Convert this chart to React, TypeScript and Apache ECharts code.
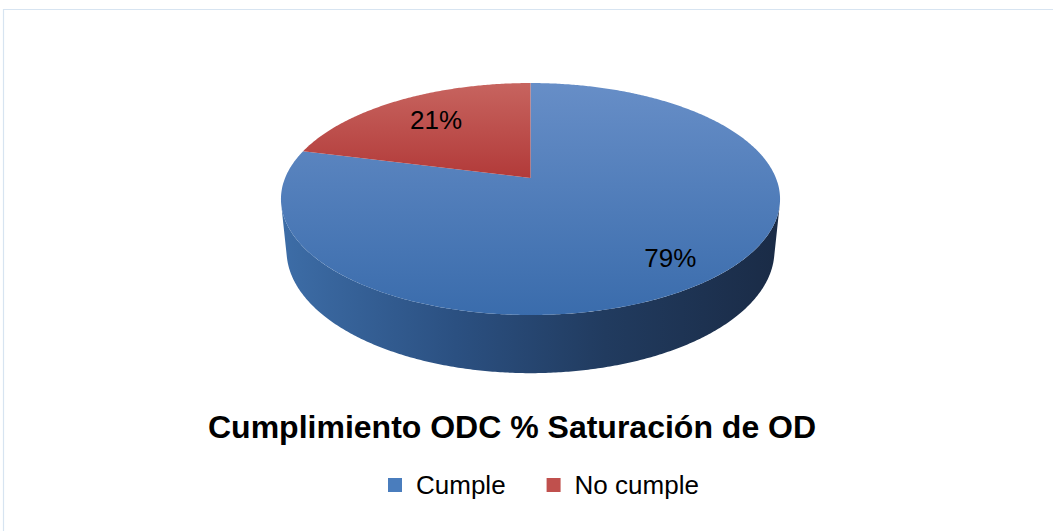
import React, { useEffect, useRef } from "react";
import * as echarts from "echarts";

const CATEGORIES = ["Cumple", "No cumple"];
const VALUES = [79, 21];
const TITLE = "Cumplimiento ODC % Saturación de OD";

const TOP_COLORS = [
  ["#678ec7", "#3a6cac"],
  ["#c7645f", "#b23a39"],
];
const SIDE_COLORS = [
  ["#3d6da7", "#2b5081", "#213b5f", "#1a2b46"],
  ["#a33a38", "#822d2b", "#662221", "#4d1a19"],
];
const LEGEND_COLORS = ["#4a7dbd", "#c0504d"];
const LABEL_R = [0.82, 0.69];
const FONT = '"Liberation Sans", Arial, sans-serif';

// 3D perspective camera for the pie
const CX = 530.5;
const CY = 178;
const ELEV = (27.2 * Math.PI) / 180;
const SA = Math.sin(ELEV);
const CA = Math.cos(ELEV);
const DIST = 4.91;
const FOCAL = 1205;
const DEPTH = 0.238;

function proj(X: number, Yw: number, Z: number): number[] {
  const w = DIST - Yw * SA + Z * CA;
  const up = Yw * CA + Z * SA;
  return [CX + (FOCAL * X) / w, CY - (FOCAL * up) / w];
}

function rim(a: number, b: number, Yw: number, r = 1): number[][] {
  const pts: number[][] = [];
  const n = Math.max(2, Math.ceil((b - a) / (Math.PI / 360)));
  for (let k = 0; k <= n; k++) {
    const p = a + ((b - a) * k) / n;
    pts.push(proj(r * Math.sin(p), Yw, r * Math.cos(p)));
  }
  return pts;
}

export default function App() {
  const ref = useRef<HTMLDivElement>(null);
  useEffect(() => {
    if (!ref.current) return;
    const chart = echarts.init(ref.current, undefined, { renderer: "svg" });
    const total = VALUES.reduce((a, b) => a + b, 0);
    // silhouette angles of the cylinder wall
    const Dh = DIST * CA;
    const phiT = Math.acos(-1 / Dh);
    const wallA = phiT;
    const wallB = 2 * Math.PI - phiT;

    const option: any = {
      animation: false,
      backgroundColor: "#ffffff",
      title: {
        text: TITLE,
        left: 208,
        top: 411,
        padding: 0,
        textStyle: {
          fontSize: 32,
          fontWeight: "bold",
          fontFamily: FONT,
          color: "#000",
          lineHeight: 32,
        },
      },
      legend: {
        data: CATEGORIES,
        left: 388,
        top: 472,
        padding: 0,
        icon: "rect",
        itemWidth: 14,
        itemHeight: 14,
        itemGap: 41,
        textStyle: {
          fontSize: 26,
          fontFamily: FONT,
          color: "#000",
          padding: [0, 0, 0, 9],
        },
      },
      graphic: [
        {
          type: "rect",
          silent: true,
          z: -10,
          shape: { x: 3.5, y: 9.5, width: 1200, height: 700 },
          style: { fill: "none", stroke: "#d7e4f1", lineWidth: 1.2 },
        },
      ],
      series: [
        {
          type: "pie",
          silent: true,
          center: [-200, -200],
          radius: [0, 1],
          label: { show: false },
          labelLine: { show: false },
          data: CATEGORIES.map((name, i) => ({
            name,
            value: VALUES[i],
            itemStyle: { color: LEGEND_COLORS[i] },
          })),
        },
        {
          type: "custom",
          coordinateSystem: "none",
          silent: true,
          data: CATEGORIES.map((name, i) => ({ name, value: VALUES[i] })),
          renderItem: (params: any, api: any) => {
            const i = params.dataIndex;
            const v = api.value(0);
            let start = 0;
            for (let k = 0; k < i; k++) start += VALUES[k];
            const p0 = (start / total) * 2 * Math.PI;
            const p1 = ((start + v) / total) * 2 * Math.PI;
            const children: any[] = [];
            const a = Math.max(p0, wallA);
            const b = Math.min(p1, wallB);
            if (a < b) {
              const topPts = rim(a, b, 0);
              const botPts = rim(a, b, -DEPTH).reverse();
              const sc = SIDE_COLORS[i];
              children.push({
                type: "polygon",
                shape: { points: topPts.concat(botPts) },
                style: {
                  fill: new echarts.graphic.LinearGradient(0, 0, 1, 0, [
                    { offset: 0, color: sc[0] },
                    { offset: 0.35, color: sc[1] },
                    { offset: 0.65, color: sc[2] },
                    { offset: 1, color: sc[3] },
                  ]),
                },
              });
            }
            const tc = TOP_COLORS[i];
            children.push({
              type: "polygon",
              shape: { points: [proj(0, 0, 0)].concat(rim(p0, p1, 0)) },
              style: {
                fill: new echarts.graphic.LinearGradient(0, 0, 0, 1, [
                  { offset: 0, color: tc[0] },
                  { offset: 1, color: tc[1] },
                ]),
              },
            });
            const mid = (p0 + p1) / 2;
            const r = LABEL_R[i];
            const lp = proj(r * Math.sin(mid), 0, r * Math.cos(mid));
            children.push({
              type: "text",
              x: lp[0],
              y: lp[1] - 2,
              style: {
                text: Math.round((v / total) * 100) + "%",
                fill: "#000",
                fontSize: 26,
                fontFamily: FONT,
                align: "center",
                verticalAlign: "middle",
              },
            });
            return { type: "group", children };
          },
        },
      ],
    };
    chart.setOption(option);
    return () => chart.dispose();
  }, []);
  return (
    <div
      ref={ref}
      style={{ position: "fixed", left: 0, top: 0, width: 1053, height: 531 }}
    />
  );
}
